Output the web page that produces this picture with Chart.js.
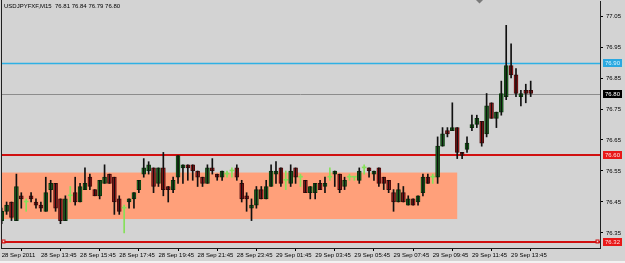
<!DOCTYPE html>
<html>
<head>
<meta charset="utf-8">
<script src="https://cdn.jsdelivr.net/npm/chart.js@4/dist/chart.umd.min.js"></script>
<style>
  html, body { margin: 0; padding: 0; background: #d3d3d3; }
  canvas { display: block; }
</style>
</head>
<body>
<canvas id="chart" width="625" height="263"></canvas>
<script>
// USDJPYFXF M15, bars from 28 Sep 2011 11:45 to 29 Sep 14:45
const symbol = 'USDJPYFXF,M15';

const open = [
  76.39, 76.42, 76.45, 76.39, 76.47, 76.45, 76.47, 76.45, 76.44, 76.42,
  76.49, 76.51, 76.46, 76.39, 76.47, 76.48, 76.45, 76.49, 76.53, 76.49,
  76.47, 76.51, 76.54, 76.53, 76.46, 76.43, 76.45, 76.46, 76.49, 76.54,
  76.55, 76.56, 76.51, 76.56, 76.50, 76.49, 76.53, 76.56, 76.57, 76.57,
  76.55, 76.53, 76.51, 76.56, 76.54, 76.53, 76.54, 76.55, 76.56, 76.51,
  76.47, 76.43, 76.44, 76.49, 76.46, 76.50, 76.54, 76.56, 76.52, 76.51,
  76.56, 76.53, 76.52, 76.48, 76.48, 76.51, 76.50, 76.53, 76.54, 76.54,
  76.50, 76.53, 76.53, 76.52, 76.56, 76.56, 76.54, 76.56, 76.53, 76.52,
  76.48, 76.45, 76.48, 76.44, 76.46, 76.45, 76.48, 76.53, 76.53, 76.53,
  76.63, 76.68, 76.68, 76.69, 76.61, 76.62, 76.69, 76.70, 76.71, 76.67,
  76.77, 76.72, 76.74, 76.79, 76.89, 76.86, 76.79, 76.81, 76.81
];
const high = [
  76.43, 76.45, 76.45, 76.54, 76.48, 76.46, 76.48, 76.46, 76.45, 76.53,
  76.52, 76.51, 76.46, 76.47, 76.50, 76.53, 76.51, 76.56, 76.54, 76.49,
  76.52, 76.57, 76.54, 76.53, 76.47, 76.44, 76.46, 76.48, 76.52, 76.59,
  76.58, 76.56, 76.56, 76.61, 76.50, 76.53, 76.60, 76.57, 76.57, 76.57,
  76.55, 76.53, 76.57, 76.59, 76.54, 76.55, 76.55, 76.56, 76.57, 76.52,
  76.48, 76.46, 76.50, 76.50, 76.52, 76.57, 76.58, 76.56, 76.55, 76.57,
  76.56, 76.54, 76.52, 76.50, 76.51, 76.52, 76.53, 76.56, 76.55, 76.54,
  76.53, 76.54, 76.53, 76.56, 76.57, 76.56, 76.55, 76.56, 76.53, 76.52,
  76.49, 76.51, 76.50, 76.47, 76.46, 76.47, 76.54, 76.54, 76.54, 76.66,
  76.69, 76.69, 76.77, 76.69, 76.61, 76.66, 76.73, 76.73, 76.71, 76.80,
  76.77, 76.74, 76.84, 77.02, 76.96, 76.88, 76.81, 76.83, 76.84
];
const low = [
  76.38, 76.41, 76.39, 76.39, 76.43, 76.42, 76.45, 76.43, 76.42, 76.42,
  76.45, 76.42, 76.38, 76.39, 76.45, 76.44, 76.45, 76.49, 76.49, 76.47,
  76.46, 76.51, 76.51, 76.41, 76.41, 76.35, 76.43, 76.43, 76.48, 76.53,
  76.54, 76.48, 76.50, 76.47, 76.45, 76.48, 76.51, 76.51, 76.52, 76.52,
  76.50, 76.50, 76.51, 76.54, 76.52, 76.52, 76.53, 76.53, 76.52, 76.45,
  76.42, 76.39, 76.43, 76.46, 76.46, 76.50, 76.51, 76.50, 76.49, 76.50,
  76.51, 76.50, 76.48, 76.46, 76.46, 76.49, 76.48, 76.52, 76.50, 76.48,
  76.49, 76.52, 76.52, 76.51, 76.54, 76.53, 76.52, 76.50, 76.49, 76.48,
  76.42, 76.45, 76.45, 76.44, 76.44, 76.44, 76.47, 76.51, 76.51, 76.51,
  76.63, 76.66, 76.68, 76.59, 76.59, 76.61, 76.68, 76.69, 76.63, 76.66,
  76.72, 76.69, 76.73, 76.78, 76.85, 76.79, 76.76, 76.77, 76.79
];
const close = [
  76.42, 76.44, 76.40, 76.50, 76.46, 76.45, 76.46, 76.44, 76.43, 76.48,
  76.51, 76.43, 76.39, 76.46, 76.47, 76.45, 76.50, 76.51, 76.50, 76.47,
  76.52, 76.53, 76.51, 76.45, 76.42, 76.43, 76.46, 76.48, 76.52, 76.56,
  76.57, 76.50, 76.56, 76.49, 76.49, 76.52, 76.60, 76.57, 76.56, 76.55,
  76.53, 76.51, 76.56, 76.55, 76.53, 76.55, 76.54, 76.55, 76.53, 76.46,
  76.46, 76.44, 76.49, 76.46, 76.50, 76.55, 76.55, 76.51, 76.52, 76.55,
  76.53, 76.53, 76.48, 76.50, 76.51, 76.49, 76.51, 76.53, 76.55, 76.49,
  76.52, 76.53, 76.53, 76.55, 76.56, 76.55, 76.55, 76.51, 76.51, 76.49,
  76.45, 76.49, 76.45, 76.46, 76.44, 76.47, 76.53, 76.51, 76.53, 76.63,
  76.67, 76.67, 76.69, 76.61, 76.60, 76.64, 76.70, 76.72, 76.64, 76.76,
  76.72, 76.74, 76.80, 76.89, 76.86, 76.80, 76.80, 76.80, 76.80
];

// time axis labels and the bar they sit on
const timeTicks = ['28 Sep 2011', '28 Sep 13:45', '28 Sep 15:45', '28 Sep 17:45', '28 Sep 19:45',
  '28 Sep 21:45', '28 Sep 23:45', '29 Sep 01:45', '29 Sep 03:45', '29 Sep 05:45',
  '29 Sep 07:45', '29 Sep 09:45', '29 Sep 11:45', '29 Sep 13:45'];
const timeTickBars = [0, 8, 16, 24, 32, 40, 48, 56, 64, 72, 80, 88, 96, 104];

const priceTicks = [76.35, 76.45, 76.55, 76.65, 76.75, 76.85, 76.95, 77.05];

// horizontal objects and the rectangle
const levelPrices = [76.90, 76.80, 76.60, 76.32];
const zonePrices = [76.395, 76.545];
const zoneBars = [-2, 93];

// visible window
const xMin = -0.143, xMax = 122.15;
const yMin = 76.3016, yMax = 77.0984;

const levelStyle = [
  { color: '#2fb0e4', width: 1.5, tag: '#2aa8e0', text: '#d8f4ff' },
  { color: '#8c8c8c', width: 1, tag: '#000000', text: '#ffffff' },
  { color: '#d01010', width: 2, tag: '#e81818', text: '#ffe0e0' },
  { color: '#d01010', width: 2, tag: '#e81818', text: '#ffe0e0', handles: true }
];

const UP = '#24862a', DOWN = '#d02222', DOJI = '#86e05a', WICK = '#101010';
const UP_EDGE = '#0c3a0e', DOWN_EDGE = '#4a0a0a';
const kind = open.map((o, i) => close[i] > o ? 'up' : close[i] < o ? 'down' : 'doji');

const wicks = open.map((o, i) => ({ x: i, y: [low[i], high[i]] }));
const bodies = open.map((o, i) => ({ x: i, y: [o, close[i]] }));

const FONT = { family: 'Liberation Sans', size: 6 };

// no extra room for labels: the plot box is fixed like in the terminal
const noPad = s => { s.paddingTop = 0; s.paddingBottom = 0; s.paddingLeft = 0; s.paddingRight = 0; };

const mtPlugin = {
  id: 'mt',
  beforeDraw(chart) {
    const c = chart.ctx;
    c.save();
    c.fillStyle = '#d3d3d3';
    c.fillRect(0, 0, chart.width, chart.height);
    c.fillStyle = '#f2f2f2';
    c.fillRect(0, 261, chart.width, 2);
    c.restore();
  },
  beforeDatasetsDraw(chart) {
    const c = chart.ctx, a = chart.chartArea, xs = chart.scales.x, ys = chart.scales.y;
    c.save();
    c.beginPath();
    c.rect(a.left, a.top, a.right - a.left, a.bottom - a.top);
    c.clip();
    // rectangle object
    const zx0 = xs.getPixelForValue(zoneBars[0]), zx1 = xs.getPixelForValue(zoneBars[1]);
    const zy0 = ys.getPixelForValue(zonePrices[1]), zy1 = ys.getPixelForValue(zonePrices[0]);
    c.fillStyle = '#ffa07a';
    c.fillRect(zx0, zy0, zx1 - zx0, zy1 - zy0);
    // horizontal lines
    levelPrices.forEach((p, k) => {
      const st = levelStyle[k];
      const y = Math.round(ys.getPixelForValue(p)) + (st.width % 2 ? 0.5 : 0);
      c.strokeStyle = st.color;
      c.lineWidth = st.width;
      c.beginPath();
      c.moveTo(a.left, y);
      c.lineTo(a.right, y);
      c.stroke();
    });
    c.restore();
  },
  afterDraw(chart) {
    const c = chart.ctx, a = chart.chartArea, ys = chart.scales.y;
    c.save();
    // frame
    c.strokeStyle = '#202020';
    c.lineWidth = 1;
    c.beginPath();
    c.moveTo(a.left + 0.5, 0);
    c.lineTo(a.left + 0.5, a.bottom);
    c.stroke();
    // title
    const n = open.length - 1;
    c.font = '6px "Liberation Sans"';
    c.fillStyle = '#000';
    c.textBaseline = 'middle';
    c.textAlign = 'left';
    c.fillText(symbol + '  ' + [open[n], high[n], low[n], close[n]].map(v => v.toFixed(2)).join(' '), 4, 6);
    // price tags
    levelPrices.forEach((p, k) => {
      const st = levelStyle[k];
      const y = Math.round(ys.getPixelForValue(p));
      c.fillStyle = st.tag;
      c.fillRect(a.right + 3, y - 4, 19, 8);
      c.fillStyle = st.text;
      c.fillText(p.toFixed(2), a.right + 5, y + 0.5);
      if (st.handles) {
        c.strokeStyle = st.color;
        c.fillStyle = '#f4d0d0';
        [a.left + 1.5, a.right - 3.5].forEach(hx => {
          c.fillRect(hx, y - 1.5, 2, 2);
          c.strokeRect(hx - 0.5, y - 2, 3, 3);
        });
      }
    });
    // chart shift marker
    c.fillStyle = '#7a7a7a';
    c.beginPath();
    c.moveTo(476, 0);
    c.lineTo(483, 0);
    c.lineTo(479.5, 3.5);
    c.closePath();
    c.fill();
    c.restore();
  }
};

new Chart(document.getElementById('chart'), {
  type: 'bar',
  data: {
    datasets: [
      {
        label: 'wick',
        data: wicks,
        grouped: false,
        barThickness: 1,
        borderWidth: 0,
        backgroundColor: kind.map(k => k === 'doji' ? DOJI : WICK)
      },
      {
        label: 'body',
        data: bodies,
        grouped: false,
        barThickness: 4,
        minBarLength: 1,
        borderSkipped: false,
        borderWidth: kind.map(k => k === 'doji' ? 0 : 1),
        borderColor: kind.map(k => k === 'up' ? UP_EDGE : DOWN_EDGE),
        backgroundColor: kind.map(k => k === 'up' ? UP : k === 'down' ? DOWN : DOJI)
      }
    ]
  },
  options: {
    responsive: false,
    animation: false,
    devicePixelRatio: 1,
    layout: { padding: { left: 1, top: 1, right: 0, bottom: 0 } },
    plugins: { legend: { display: false }, tooltip: { enabled: false } },
    scales: {
      x: {
        type: 'linear',
        position: 'bottom',
        min: xMin,
        max: xMax,
        offset: false,
        grid: { display: true, drawOnChartArea: false, drawTicks: true, tickLength: 3, color: '#000' },
        border: { display: true, color: '#202020' },
        ticks: {
          autoSkip: false, maxRotation: 0, minRotation: 0, align: 'start', padding: 1,
          color: '#000', font: FONT,
          callback: (v, i) => timeTicks[i]
        },
        afterBuildTicks: s => { s.ticks = timeTickBars.map(v => ({ value: v })); },
        afterFit: s => { s.height = 15; noPad(s); }
      },
      y: {
        type: 'linear',
        position: 'right',
        min: yMin,
        max: yMax,
        grid: { display: true, drawOnChartArea: false, drawTicks: true, tickLength: 3, color: '#000' },
        border: { display: true, color: '#202020' },
        ticks: {
          padding: 3, color: '#000', font: FONT,
          callback: v => v.toFixed(2)
        },
        afterBuildTicks: s => { s.ticks = priceTicks.map(v => ({ value: v })); },
        afterFit: s => { s.width = 25; noPad(s); }
      }
    }
  },
  plugins: [mtPlugin]
});
</script>
</body>
</html>
